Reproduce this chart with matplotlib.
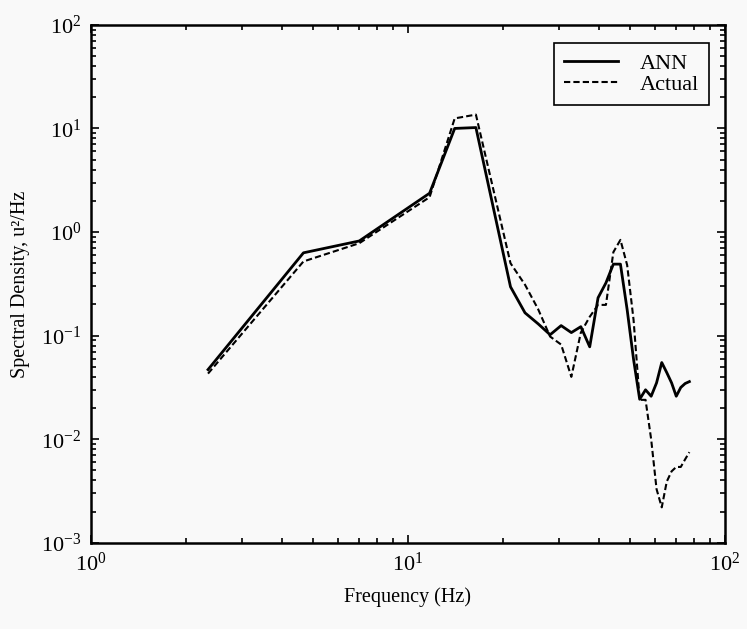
import matplotlib
matplotlib.use("Agg")
import matplotlib.pyplot as plt
from matplotlib.ticker import LogLocator, NullFormatter

plt.rcParams["font.family"] = ["Liberation Serif", "DejaVu Serif"]
plt.rcParams["mathtext.fontset"] = "custom"
plt.rcParams["mathtext.rm"] = "Liberation Serif"
plt.rcParams["mathtext.it"] = "Liberation Serif:italic"
plt.rcParams["axes.unicode_minus"] = False

# frequency bins (Hz), spacing ~2.34 Hz
freq = [2.34, 4.68, 7.02, 11.7, 14.04, 16.38, 21.06, 23.4, 25.74, 28.08,
        30.42, 32.76, 35.1, 37.44, 39.78, 42.12, 44.46, 46.8, 49.14, 51.48,
        53.82, 56.16, 58.5, 60.84, 63.18, 65.52, 67.86, 70.2, 72.54, 74.88,
        77.22]

ann = [0.047, 0.63, 0.82, 2.37, 10.0, 10.2, 0.296, 0.166, 0.130, 0.102,
       0.125, 0.107, 0.122, 0.078, 0.232, 0.323, 0.49, 0.49, 0.178, 0.059,
       0.0243, 0.030, 0.026, 0.035, 0.055, 0.044, 0.035, 0.026, 0.0316,
       0.0345, 0.036]

actual = [0.043, 0.52, 0.78, 2.17, 12.5, 13.6, 0.50, 0.31, 0.18, 0.098,
          0.082, 0.040, 0.107, 0.152, 0.198, 0.198, 0.64, 0.84, 0.48, 0.142,
          0.024, 0.024, 0.010, 0.0033, 0.0022, 0.0039, 0.0049, 0.0054,
          0.0054, 0.0064, 0.0075]

fig = plt.figure(figsize=(7.47, 6.29), dpi=100, facecolor="#f9f9f9")
ax = fig.add_axes([0.1218, 0.137, 0.8487, 0.8235])
ax.set_facecolor("#f9f9f9")

ax.loglog(freq, ann, color="black", lw=2.0, label="ANN")
ax.loglog(freq, actual, color="black", lw=1.5, ls=(0, (3, 1.5)), label="Actual")

ax.set_xlim(1, 100)
ax.set_ylim(1e-3, 1e2)

ax.xaxis.set_major_locator(LogLocator(base=10, numticks=10))
ax.yaxis.set_major_locator(LogLocator(base=10, numticks=10))
ax.xaxis.set_minor_locator(LogLocator(base=10, subs=range(2, 10), numticks=20))
ax.yaxis.set_minor_locator(LogLocator(base=10, subs=range(2, 10), numticks=20))
ax.xaxis.set_minor_formatter(NullFormatter())
ax.yaxis.set_minor_formatter(NullFormatter())

ax.tick_params(which="both", direction="in", top=True, right=True,
               labelsize=16, width=1.2)
ax.tick_params(which="major", length=6, pad=7)
ax.tick_params(which="minor", length=3.5)
for s in ax.spines.values():
    s.set_linewidth(1.8)

ax.set_xlabel("Frequency (Hz)", fontsize=14.5, labelpad=8)
ax.set_ylabel("Spectral Density, u\u00b2/Hz", fontsize=14.5, labelpad=8)

leg = ax.legend(loc="upper right", bbox_to_anchor=(0.975, 0.965),
                borderaxespad=0, fontsize=16, frameon=True, fancybox=False,
                handlelength=2.4, handletextpad=1.0, borderpad=0.45,
                labelspacing=0.05)
leg.get_frame().set_edgecolor("black")
leg.get_frame().set_linewidth(1.2)
leg.get_frame().set_facecolor("#f9f9f9")
leg.get_frame().set_alpha(1)

fig.savefig("out.png", dpi=100, facecolor=fig.get_facecolor())
